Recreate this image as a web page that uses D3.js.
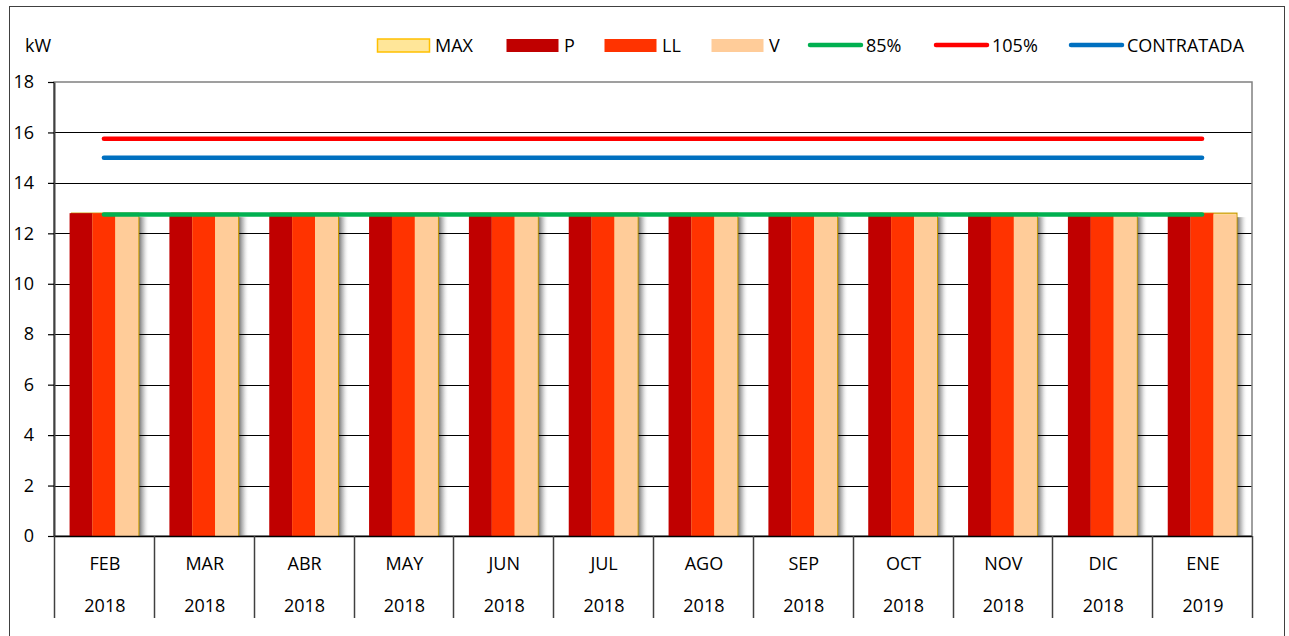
<!DOCTYPE html>
<html>
<head>
<meta charset="utf-8">
<script src="https://cdn.jsdelivr.net/npm/d3@7"></script>
<style>
body { margin: 0; background: #fff; }
text { font-family: "Open Sans", sans-serif; fill: #000; }
</style>
</head>
<body>
<svg id="chart" width="1289" height="636"></svg>
<script>
// data
var months = ['FEB', 'MAR', 'ABR', 'MAY', 'JUN', 'JUL', 'AGO', 'SEP', 'OCT', 'NOV', 'DIC', 'ENE'];
var years = ['2018', '2018', '2018', '2018', '2018', '2018', '2018', '2018', '2018', '2018', '2018', '2019'];
var maxVals = [12.8, 12.8, 12.8, 12.8, 12.8, 12.8, 12.8, 12.8, 12.8, 12.8, 12.8, 12.8];
var pVals = [12.8, 12.8, 12.8, 12.8, 12.8, 12.8, 12.8, 12.8, 12.8, 12.8, 12.8, 12.8];
var llVals = [12.8, 12.8, 12.8, 12.8, 12.8, 12.8, 12.8, 12.8, 12.8, 12.8, 12.8, 12.8];
var vVals = [12.75, 12.75, 12.75, 12.75, 12.75, 12.75, 12.75, 12.75, 12.75, 12.75, 12.75, 12.75];
var pct85 = [12.75, 12.75, 12.75, 12.75, 12.75, 12.75, 12.75, 12.75, 12.75, 12.75, 12.75, 12.75];
var pct105 = [15.75, 15.75, 15.75, 15.75, 15.75, 15.75, 15.75, 15.75, 15.75, 15.75, 15.75, 15.75];
var contratada = [15, 15, 15, 15, 15, 15, 15, 15, 15, 15, 15, 15];
var yTicks = [0, 2, 4, 6, 8, 10, 12, 14, 16, 18];

var barSeries = [
    {key: 'P', values: pVals, color: '#C00000'},
    {key: 'LL', values: llVals, color: '#FF3300'},
    {key: 'V', values: vVals, color: '#FFCC99'}
];
var lineSeries = [
    {key: '85%', values: pct85, color: '#00B050'},
    {key: '105%', values: pct105, color: '#FF0000'},
    {key: 'CONTRATADA', values: contratada, color: '#0070C0'}
];

var svg = d3.select('#chart');
var plotLeft = 54, plotRight = 1252, plotTop = 82, plotBottom = 536;

// outer chart border
svg.append('rect')
    .attr('x', 9.5).attr('y', 6.5)
    .attr('width', 1275).attr('height', 640)
    .attr('fill', 'none').attr('stroke', '#404040').attr('stroke-width', 1);

var x = d3.scaleBand().domain(months).range([plotLeft, plotRight]).padding(0);
var xSub = d3.scaleBand().domain(['P', 'LL', 'V']).range([0, x.bandwidth()]).paddingOuter(0.68);
var y = d3.scaleLinear().domain([0, 18]).range([plotBottom, plotTop]);

// shadow gradient
var defs = svg.append('defs');
var grad = defs.append('linearGradient').attr('id', 'shadow').attr('x1', 0).attr('x2', 1);
grad.append('stop').attr('offset', 0).attr('stop-color', '#555').attr('stop-opacity', 0.95);
grad.append('stop').attr('offset', 0.5).attr('stop-color', '#aaa').attr('stop-opacity', 0.6);
grad.append('stop').attr('offset', 1).attr('stop-color', '#fff').attr('stop-opacity', 0);

// shadows behind the groups
svg.append('g').selectAll('rect').data(months).enter().append('rect')
    .attr('x', function(d) { return x(d) + xSub('V') + xSub.bandwidth(); })
    .attr('y', function(d, i) { return y(maxVals[i]) + 4; })
    .attr('width', 11)
    .attr('height', function(d, i) { return plotBottom - y(maxVals[i]) - 4; })
    .attr('fill', 'url(#shadow)');

// gridlines
svg.append('g').selectAll('line').data(yTicks.filter(function(t) { return t > 0 && t < 18; }))
    .enter().append('line')
    .attr('x1', plotLeft).attr('x2', plotRight)
    .attr('y1', function(d) { return Math.round(y(d)) + 0.5; })
    .attr('y2', function(d) { return Math.round(y(d)) + 0.5; })
    .attr('stroke', '#000').attr('stroke-width', 1.2);

// plot border
svg.append('rect')
    .attr('x', plotLeft).attr('y', plotTop)
    .attr('width', plotRight - plotLeft).attr('height', plotBottom - plotTop)
    .attr('fill', 'none').attr('stroke', '#808080').attr('stroke-width', 1.5);

// MAX bar behind each group
svg.append('g').selectAll('rect').data(months).enter().append('rect')
    .attr('x', function(d) { return x(d) + xSub('P') + 2; })
    .attr('y', function(d, i) { return y(maxVals[i]); })
    .attr('width', xSub.bandwidth() * 3 - 1.5)
    .attr('height', function(d, i) { return plotBottom - y(maxVals[i]); })
    .attr('fill', '#FFE699').attr('stroke', '#C99A00').attr('stroke-width', 1.2);

// P, LL, V bars
barSeries.forEach(function(s) {
    svg.append('g').selectAll('rect').data(months).enter().append('rect')
	.attr('x', function(d) { return x(d) + xSub(s.key); })
	.attr('y', function(d, i) { return y(s.values[i]); })
	.attr('width', xSub.bandwidth())
	.attr('height', function(d, i) { return plotBottom - y(s.values[i]); })
	.attr('fill', s.color);
});

// reference lines
var line = d3.line()
    .x(function(d, i) { return x(months[i]) + x.bandwidth() / 2; })
    .y(function(d) { return y(d); });
lineSeries.forEach(function(s) {
    svg.append('path').datum(s.values)
	.attr('d', line)
	.attr('fill', 'none')
	.attr('stroke', s.color)
	.attr('stroke-width', 4.5)
	.attr('stroke-linecap', 'round');
});

// y axis
var yAxis = svg.append('g')
    .attr('transform', 'translate(' + plotLeft + ',0)')
    .call(d3.axisLeft(y).tickValues(yTicks).tickSize(6).tickPadding(14).tickSizeOuter(0));
yAxis.select('.domain').attr('stroke', '#404040').attr('stroke-width', 2);
yAxis.selectAll('.tick line').attr('stroke', '#000').attr('stroke-width', 1.2);
yAxis.selectAll('.tick text').attr('font-size', 18).attr('font-family', '"Open Sans", sans-serif').attr('fill', '#000');

// x axis line
svg.append('line')
    .attr('x1', plotLeft).attr('x2', plotRight)
    .attr('y1', plotBottom + 0.5).attr('y2', plotBottom + 0.5)
    .attr('stroke', '#000').attr('stroke-width', 1.5);

// category separators
var seps = months.map(function(d) { return x(d); }).concat([plotRight]);
svg.append('g').selectAll('line').data(seps).enter().append('line')
    .attr('x1', function(d) { return Math.round(d) + 0.5; })
    .attr('x2', function(d) { return Math.round(d) + 0.5; })
    .attr('y1', plotBottom).attr('y2', 618)
    .attr('stroke', '#404040').attr('stroke-width', 1.5);

// category labels
var labels = svg.append('g');
labels.selectAll('text.m').data(months).enter().append('text')
    .attr('class', 'm')
    .attr('x', function(d) { return x(d) + x.bandwidth() / 2 + 1; })
    .attr('y', 570)
    .attr('text-anchor', 'middle').attr('font-size', 18)
    .text(function(d) { return d; });
labels.selectAll('text.y').data(years).enter().append('text')
    .attr('class', 'y')
    .attr('x', function(d, i) { return x(months[i]) + x.bandwidth() / 2 + 1; })
    .attr('y', 612)
    .attr('text-anchor', 'middle').attr('font-size', 18)
    .text(function(d) { return d; });

// unit
svg.append('text').attr('x', 25).attr('y', 52).attr('font-size', 18).text('kW');

// legend
var legendItems = [
    {key: 'MAX', type: 'bar', fill: '#FFE699', stroke: '#FFC000', x: 377},
    {key: 'P', type: 'bar', fill: '#C00000', stroke: null, x: 506},
    {key: 'LL', type: 'bar', fill: '#FF3300', stroke: null, x: 604},
    {key: 'V', type: 'bar', fill: '#FFCC99', stroke: null, x: 711},
    {key: '85%', type: 'line', fill: '#00B050', x: 808},
    {key: '105%', type: 'line', fill: '#FF0000', x: 934},
    {key: 'CONTRATADA', type: 'line', fill: '#0070C0', x: 1069}
];
var legend = svg.append('g');
legendItems.forEach(function(it) {
    var g = legend.append('g').attr('transform', 'translate(' + it.x + ',45)');
    if (it.type === 'bar') {
	g.append('rect').attr('x', 0.5).attr('y', -6).attr('width', 52).attr('height', 13)
	    .attr('fill', it.fill)
	    .attr('stroke', it.stroke || 'none').attr('stroke-width', 1.5);
    } else {
	g.append('line').attr('x1', 2).attr('x2', 53).attr('y1', 0).attr('y2', 0)
	    .attr('stroke', it.fill).attr('stroke-width', 4.5).attr('stroke-linecap', 'round');
    }
    g.append('text').attr('x', 58).attr('y', 7).attr('font-size', 18).text(it.key);
});
</script>
</body>
</html>
